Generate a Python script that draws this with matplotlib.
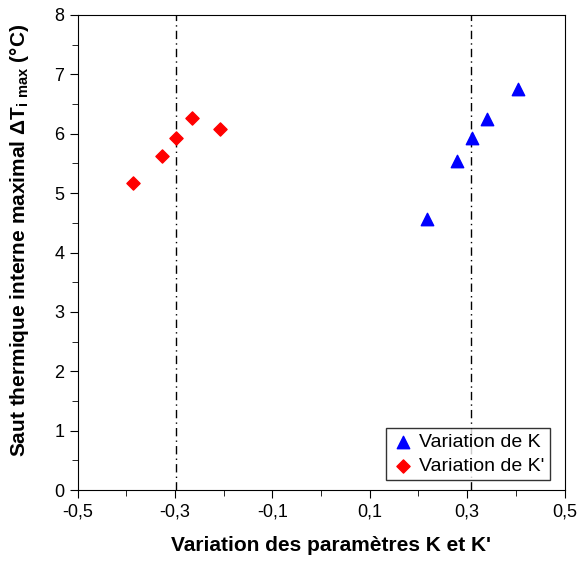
import matplotlib
matplotlib.use("Agg")
import numpy as np
from matplotlib import pyplot as plt
from matplotlib.ticker import MultipleLocator, FixedLocator, FuncFormatter

plt.rcParams['font.family'] = ['Liberation Sans', 'DejaVu Sans']
plt.rcParams['mathtext.fontset'] = 'custom'
plt.rcParams['mathtext.rm'] = 'Liberation Sans:bold'
plt.rcParams['mathtext.bf'] = 'Liberation Sans:bold'

# données
k_x = [0.217, 0.279, 0.309, 0.340, 0.404]
k_y = [4.56, 5.54, 5.93, 6.25, 6.75]
kp_x = [-0.387, -0.326, -0.297, -0.266, -0.207]
kp_y = [5.17, 5.62, 5.93, 6.26, 6.08]
vlines_x = [-0.298, 0.307]
xticks = [-0.5, -0.3, -0.1, 0.1, 0.3, 0.5]

fig = plt.figure(figsize=(5.79, 5.72), dpi=100)
ax = fig.add_axes([0.134, 0.143, 0.841, 0.831])

for xv in vlines_x:
    ax.axvline(xv, color='black', linestyle=(0, (6, 3, 1, 3)), linewidth=1, zorder=1)

ax.scatter(k_x, k_y, marker='^', s=80, color='#0000ff', label='Variation de K', zorder=3)
ax.scatter(kp_x, kp_y, marker='D', s=45, color='#ff0000', label="Variation de K'", zorder=3)

ax.set_xlim(-0.5, 0.5)
ax.set_ylim(0, 8)
ax.xaxis.set_major_locator(FixedLocator(xticks))
ax.xaxis.set_minor_locator(FixedLocator(np.round(np.arange(-0.4, 0.5, 0.2), 1)))
ax.yaxis.set_major_locator(MultipleLocator(1))
ax.yaxis.set_minor_locator(MultipleLocator(0.5))
ax.xaxis.set_major_formatter(FuncFormatter(lambda v, p: ('%.1f' % v).replace('.', ',')))
ax.tick_params(which='major', direction='out', length=6, labelsize=13)
ax.tick_params(which='minor', direction='out', length=4)

ax.set_xlabel("Variation des paramètres K et K'", fontsize=15, fontweight='bold', labelpad=11)
ax.set_ylabel(r"Saut thermique interne maximal $\Delta$T$_{\mathregular{i\ max}}$ (°C)",
              fontsize=15, fontweight='bold', labelpad=17)
ax.xaxis.label.set_x(0.52)
ax.yaxis.label.set_y(0.526)

leg = ax.legend(loc='lower right', fontsize=14, frameon=True, fancybox=False,
                edgecolor='black', handletextpad=0.2, borderpad=0.3, labelspacing=0.3,
                handlelength=1.2, bbox_to_anchor=(0.99, 0.0))
leg.get_frame().set_linewidth(1)

plt.savefig('out.png', dpi=100)
